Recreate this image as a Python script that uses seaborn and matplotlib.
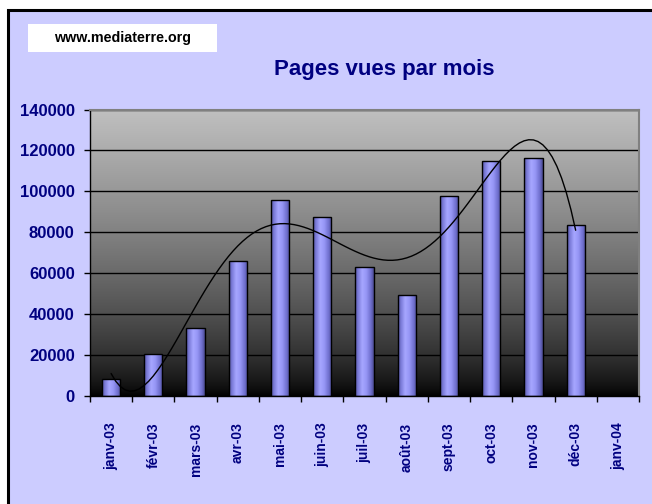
import numpy as np
import pandas as pd
import matplotlib
matplotlib.use("Agg")
import matplotlib.pyplot as plt
import seaborn as sns
from matplotlib.patches import Rectangle
from matplotlib.colors import LinearSegmentedColormap

# ---- data ----
months = ["janv-03", "févr-03", "mars-03", "avr-03", "mai-03", "juin-03", "juil-03",
          "août-03", "sept-03", "oct-03", "nov-03", "déc-03", "janv-04"]
views = [8300, 20400, 33400, 66000, 95600, 87300, 62900, 49400, 97500, 115000, 116300, 83400]
y_ticks = [0, 20000, 40000, 60000, 80000, 100000, 120000, 140000]
title = "Pages vues par mois"
site = "www.mediaterre.org"

sns.set_theme(style="white")
FAM = ["Liberation Sans", "DejaVu Sans"]
plt.rcParams["font.family"] = FAM
NAVY = "#000080"

W, H = 652, 504
fig = plt.figure(figsize=(W / 100, H / 100), dpi=100, facecolor="white")

# outer lavender frame
fig.patches.append(Rectangle((7.5 / W, -0.2), 1.5, (1 - 10 / H) + 0.2, transform=fig.transFigure,
                             facecolor="#CCCCFF", edgecolor="black", lw=2.2, zorder=-2))
# website box
fig.patches.append(Rectangle((28 / W, 1 - 52 / H), 189 / W, 28 / H, transform=fig.transFigure,
                             facecolor="white", edgecolor="none", zorder=-1))
fig.text(122.5 / W, 1 - 38 / H, site, ha="center", va="center", fontsize=10.3,
         fontweight="bold", color="black", family=FAM)
fig.text(384 / W, 1 - 75 / H, title, ha="center", va="baseline", fontsize=16,
         fontweight="bold", color=NAVY, family=FAM)

ax = fig.add_axes([90 / W, 1 - 396 / H, 549 / W, 286.5 / H])
ax.patch.set_alpha(0)

# plot area gradient (grey -> black)
f = np.linspace(0, 1, 256)[:, None]
g = 0.753 * (1 - f) ** 0.7
bg = np.dstack([g, g, g])
ax.imshow(bg, extent=[0, 1, 0, 1], transform=ax.transAxes, aspect="auto",
          zorder=0.1, interpolation="bilinear")

df = pd.DataFrame({"month": months[:len(views)], "views": views})
df["pos"] = np.arange(len(df))

sns.barplot(data=df, x="month", y="views", order=months, width=0.43, color="#9999FF",
            saturation=1, edgecolor="black", linewidth=1, ax=ax, zorder=3)

bar_cmap = LinearSegmentedColormap.from_list(
    "cyl", [(0, "#55559f"), (0.15, "#7a7ad8"), (0.38, "#a6a6ff"), (0.6, "#9696f6"),
            (0.85, "#6e6ecc"), (1, "#4a4a90")])
hgrad = bar_cmap(np.linspace(0, 1, 64))[None, :, :]
for p in list(ax.patches):
    x0, y0 = p.get_x(), p.get_y()
    w, h = p.get_width(), p.get_height()
    im = ax.imshow(hgrad, extent=[x0, x0 + w, y0, y0 + h], aspect="auto",
                   zorder=2.5, interpolation="bilinear")
    im.set_clip_path(p)
    p.set_facecolor("none")

sns.regplot(data=df, x="pos", y="views", order=6, ci=None, scatter=False, ax=ax,
            line_kws=dict(color="black", lw=1, zorder=4))

ax.set_xlim(-0.5, len(months) - 0.5)
ax.set_ylim(y_ticks[0], y_ticks[-1])
ax.set_aspect("auto")
ax.set_yticks(y_ticks)
ax.set_yticklabels([str(v) for v in y_ticks], fontsize=12, fontweight="bold",
                   color=NAVY, family=FAM)
ax.set_xticks(range(len(months)))
ax.set_xticklabels(months, rotation=90, ha="center", va="top", fontsize=10,
                   fontweight="bold", color=NAVY, family=FAM)
ax.set_xticks(np.arange(-0.5, len(months), 1), minor=True)
ax.tick_params(axis="x", which="major", length=0, pad=19)
ax.tick_params(axis="x", which="minor", length=4, width=1, color="black", direction="out", bottom=True)
ax.tick_params(axis="y", which="major", length=4, width=1, color="black", direction="out",
               left=True, pad=7)
ax.set_xlabel("")
ax.set_ylabel("")
ax.set_axisbelow(True)
ax.yaxis.grid(True, color="black", lw=1, zorder=0.5)
ax.xaxis.grid(False)
for s in ["top", "right"]:
    ax.spines[s].set_color("#808080")
    ax.spines[s].set_linewidth(1.5)
for s in ["left", "bottom"]:
    ax.spines[s].set_color("black")
    ax.spines[s].set_linewidth(1)

fig.savefig("out.png", dpi=100)
